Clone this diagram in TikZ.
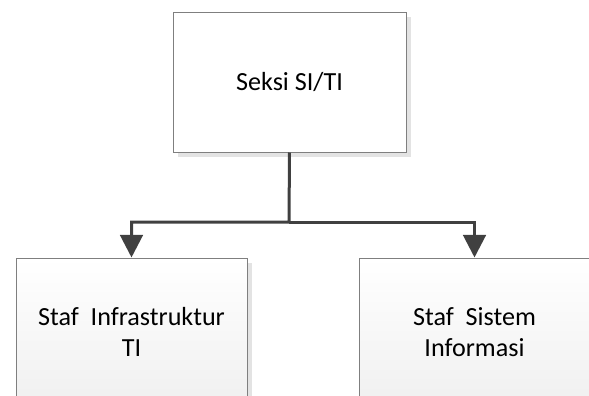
\documentclass[tikz,border=0pt]{standalone}
\usepackage{fontspec}
\setmainfont{Carlito}
\usetikzlibrary{arrows.meta,shadows}
\definecolor{boxline}{HTML}{7F7F7F}
\definecolor{connline}{HTML}{404040}
\definecolor{shadowgray}{HTML}{E3E3E3}
\tikzset{
  unit/.style={draw=boxline, line width=0.75pt, rectangle, align=center,
    font=\fontsize{19.6}{23.25}\selectfont,
    drop shadow={shadow xshift=3.75pt, shadow yshift=-3.75pt, fill=shadowgray, opacity=1}},
  headbox/.style={unit, fill=white, minimum width=174.75pt, minimum height=105pt},
  staffbox/.style={unit, top color=white, bottom color=black!6, minimum width=173.25pt, minimum height=111pt},
  conn/.style={draw=connline, line width=2.25pt, -{Triangle[length=17pt, width=17pt]}}
}
\begin{document}
\begin{tikzpicture}[x=0.75pt, y=-0.75pt]
  \useasboundingbox (0,0) rectangle (589,396);
  \clip (0,0) rectangle (589,396);
  \node[headbox] (seksi) at (289.5,82) {Seksi SI/TI};
  \node[staffbox] (infra) at (131.5,332) {Staf\ \ Infrastruktur\\TI};
  \node[staffbox] (sistem) at (474.5,332) {Staf\ \ Sistem\\Informasi};
  \coordinate (bus) at (289,222);
  \draw[conn] (seksi.south) -- (bus) -| (infra.north);
  \draw[conn] (bus) -| (sistem.north);
\end{tikzpicture}
\end{document}
